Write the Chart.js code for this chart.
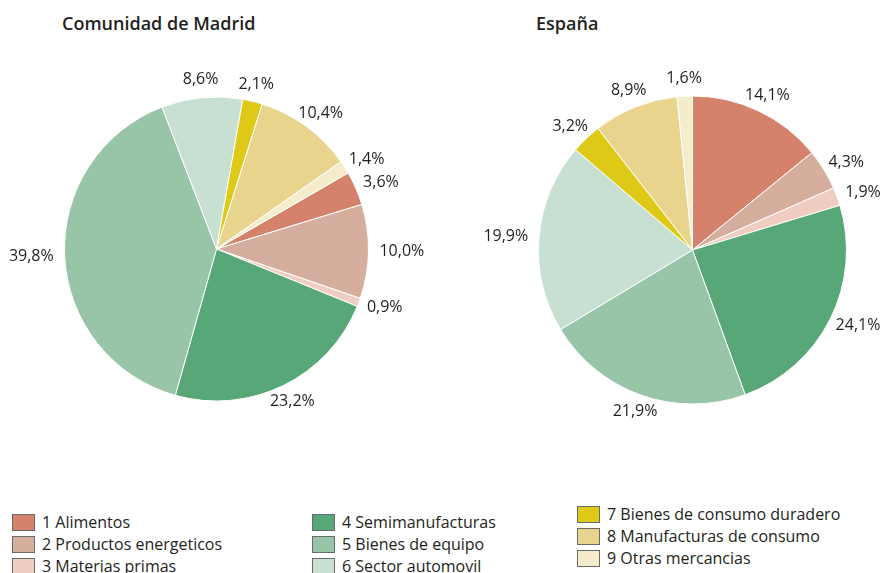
<!DOCTYPE html>
<html>
<head>
<meta charset="utf-8">
<script src="https://cdn.jsdelivr.net/npm/chart.js@4"></script>
<style>
  body { margin: 0; width: 889px; height: 573px; overflow: hidden; background: #fff; font-family: 'Open Sans', sans-serif; color: #231f20; position: relative; }
  canvas { position: absolute; top: 0; }
  .title { position: absolute; top: 11px; font-weight: 600; font-size: 18px; }
  .legend { position: absolute; font-size: 16px; }
  .legend div { height: 22px; line-height: 22px; display: flex; align-items: center; white-space: nowrap; }
  .legend span { display: inline-block; width: 23px; height: 17px; box-sizing: border-box; border: 1px solid #6a6a6a; margin-right: 7px; }
</style>
</head>
<body>
<div class="title" style="left:62px">Comunidad de Madrid</div>
<div class="title" style="left:536px">España</div>
<canvas id="madrid" width="440" height="500" style="left:0"></canvas>
<canvas id="espana" width="449" height="500" style="left:440px"></canvas>
<div class="legend" id="leg1" style="left:12px; top:511px"></div>
<div class="legend" id="leg2" style="left:312px; top:511px"></div>
<div class="legend" id="leg3" style="left:577px; top:503px"></div>

<script>
var categorias = ['1 Alimentos', '2 Productos energeticos', '3 Materias primas',
  '4 Semimanufacturas', '5 Bienes de equipo', '6 Sector automovil',
  '7 Bienes de consumo duradero', '8 Manufacturas de consumo', '9 Otras mercancias'];
var madrid = [3.6, 10.0, 0.9, 23.2, 39.8, 8.6, 2.1, 10.4, 1.4];
var espana = [14.1, 4.3, 1.9, 24.1, 21.9, 19.9, 3.2, 8.9, 1.6];
var colores = ['#D4826C', '#D5AE9E', '#EFCDC1', '#58A779', '#98C5A8', '#C8E0D2', '#DECA16', '#E9D48E', '#F4ECCB'];

// labels outside each slice, with spanish decimal comma
var outLabels = {
  id: 'outLabels',
  afterDatasetsDraw: function(chart) {
    var ctx = chart.ctx;
    var values = chart.data.datasets[0].data;
    ctx.save();
    ctx.font = '16px "Open Sans"';
    ctx.fillStyle = '#231f20';
    ctx.textAlign = 'center';
    ctx.textBaseline = 'middle';
    chart.getDatasetMeta(0).data.forEach(function(arc, i) {
      var p = arc.getProps(['x', 'y', 'startAngle', 'endAngle', 'outerRadius'], true);
      var mid = (p.startAngle + p.endAngle) / 2;
      var txt = values[i].toFixed(1).replace('.', ',') + '%';
      var w = ctx.measureText(txt).width, h = 14;
      var r = p.outerRadius + 11;
      var cx = p.x + Math.cos(mid) * (r + w / 2 * Math.abs(Math.cos(mid)));
      var cy = p.y + Math.sin(mid) * (r + h / 2 * Math.abs(Math.sin(mid)));
      ctx.fillText(txt, cx, cy);
    });
    ctx.restore();
  }
};

function makePie(id, values, rotation, radius, padding) {
  return new Chart(id, {
    type: 'pie',
    data: {
      labels: categorias,
      datasets: [{
        data: values,
        backgroundColor: colores,
        borderColor: '#ffffff',
        borderWidth: 1
      }]
    },
    options: {
      responsive: false,
      animation: false,
      rotation: rotation,
      radius: radius,
      layout: { padding: padding },
      plugins: {
        legend: { display: false },
        tooltip: { enabled: false }
      }
    },
    plugins: [outLabels]
  });
}

makePie('madrid', madrid, 60, 152, { left: 0, right: 7, top: 0, bottom: 2 });
makePie('espana', espana, 0, 154, { left: 56, right: 0, top: 0, bottom: 0 });

// legend in three columns
[[0, 3, 'leg1'], [3, 6, 'leg2'], [6, 9, 'leg3']].forEach(function(g) {
  var el = document.getElementById(g[2]);
  for (var i = g[0]; i < g[1]; i++) {
    var row = document.createElement('div');
    row.innerHTML = '<span style="background:' + colores[i] + '"></span>' + categorias[i];
    el.appendChild(row);
  }
});
</script>
</body>
</html>
